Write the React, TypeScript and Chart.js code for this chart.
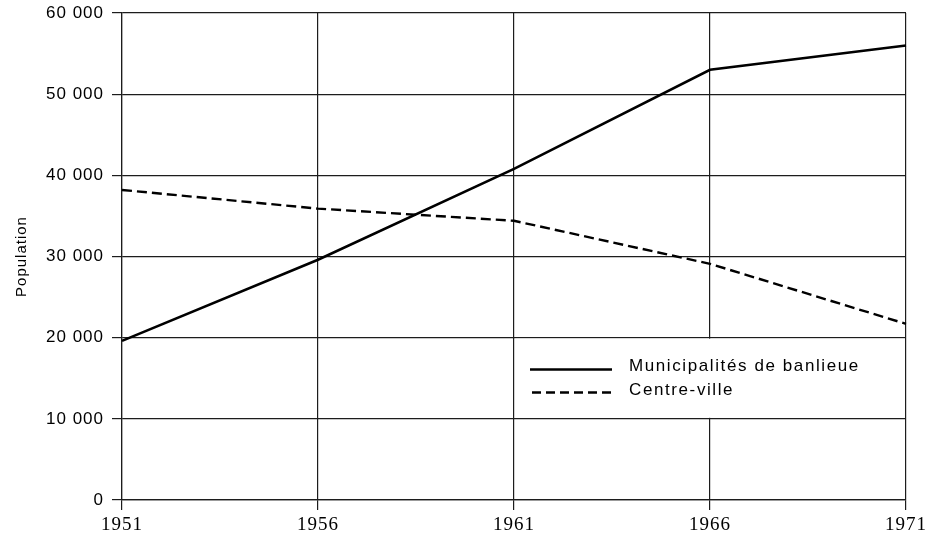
import React, { useEffect, useRef } from "react";
import { Chart, registerables } from "chart.js";

Chart.register(...registerables);

const years = ["1951", "1956", "1961", "1966", "1971"];
const banlieue = [19600, 29600, 40800, 53000, 56000];
const centreVille = [38200, 35900, 34400, 29100, 21700];
const seriesNames = ["Municipalités de banlieue", "Centre-ville"];
const yTicks = [0, 10000, 20000, 30000, 40000, 50000, 60000];
const yTitle = "Population";

const fmt = (v: number) =>
  v === 0 ? "0" : String(v).replace(/\B(?=(\d{3})+(?!\d))/g, " ");

const legendBoxPlugin = {
  id: "legendBox",
  beforeDraw(chart: any) {
    chart.ctx.letterSpacing = "1px";
  },
  beforeDatasetsDraw(chart: any) {
    const { ctx, scales } = chart;
    const x = scales.x;
    const y = scales.y;
    const left = x.getPixelForValue(2) + 1;
    const right = x.getPixelForValue(4) - 1;
    const top = y.getPixelForValue(20000) + 1;
    const bottom = y.getPixelForValue(10000) - 1;
    ctx.save();
    ctx.fillStyle = "#ffffff";
    ctx.fillRect(left, top, right - left, bottom - top);
    const h = bottom - top;
    const row1 = top + h * 0.39;
    const row2 = top + h * 0.68;
    const sx0 = left + 15;
    const sx1 = left + 97;
    ctx.strokeStyle = "#000";
    ctx.lineWidth = 2.4;
    ctx.setLineDash([]);
    ctx.beginPath();
    ctx.moveTo(sx0, row1);
    ctx.lineTo(sx1, row1);
    ctx.stroke();
    ctx.setLineDash([9, 5]);
    ctx.beginPath();
    ctx.moveTo(sx0 + 2, row2);
    ctx.lineTo(sx1, row2);
    ctx.stroke();
    ctx.setLineDash([]);
    ctx.fillStyle = "#000";
    ctx.font = "17px 'Liberation Sans', Arial, sans-serif";
    ctx.letterSpacing = "1.6px";
    ctx.textBaseline = "middle";
    ctx.textAlign = "left";
    ctx.fillText(seriesNames[0], left + 114, row1 - 3);
    ctx.fillText(seriesNames[1], left + 114, row2 - 2);
    ctx.restore();
  },
};

export default function App() {
  const ref = useRef<HTMLCanvasElement>(null);
  useEffect(() => {
    if (!ref.current) return;
    const grid = "#1c1c1c";
    const chart = new Chart(ref.current, {
      type: "line",
      data: {
        labels: years,
        datasets: [
          {
            label: seriesNames[0],
            data: banlieue,
            borderColor: "#000",
            borderWidth: 2.6,
            pointRadius: 0,
            tension: 0,
            fill: false,
          },
          {
            label: seriesNames[1],
            data: centreVille,
            borderColor: "#000",
            borderWidth: 2.4,
            borderDash: [10, 5],
            pointRadius: 0,
            tension: 0,
            fill: false,
          },
        ],
      },
      plugins: [legendBoxPlugin],
      options: {
        animation: false,
        responsive: false,
        maintainAspectRatio: false,
        layout: { padding: { top: 13, right: 20, left: 0, bottom: 0 } },
        plugins: { legend: { display: false }, tooltip: { enabled: false } },
        scales: {
          x: {
            type: "category",
            offset: false,
            afterFit: (s: any) => {
              s.height = 38;
              s.paddingLeft = 0;
              s.paddingRight = 0;
            },
            grid: { color: grid, lineWidth: 1.2, tickLength: 10, drawTicks: true },
            border: { color: grid, width: 1.2 },
            ticks: {
              color: "#000",
              padding: 4,
              maxRotation: 0,
              font: { family: "'Liberation Serif', 'Times New Roman', serif", size: 19 },
            },
          },
          y: {
            min: 0,
            max: 60000,
            afterFit: (s: any) => {
              s.width = 122;
              s.paddingTop = 0;
              s.paddingBottom = 0;
            },
            afterBuildTicks: (s: any) => {
              s.ticks = yTicks.map((v) => ({ value: v }));
            },
            grid: { color: grid, lineWidth: 1.2, tickLength: 10, drawTicks: true },
            border: { color: grid, width: 1.2 },
            ticks: {
              color: "#000",
              padding: 8,
              font: { family: "'Liberation Sans', Arial, sans-serif", size: 17 },
              callback: (v: any) => fmt(Number(v)),
            },
            title: {
              display: true,
              text: yTitle,
              color: "#000",
              padding: { top: 13, bottom: 0 },
              font: { family: "'Liberation Sans', Arial, sans-serif", size: 15 },
            },
          },
        },
      },
    });
    return () => chart.destroy();
  }, []);
  return (
    <div style={{ position: "absolute", left: 0, top: 0, width: 926, height: 538, background: "#fff" }}>
      <canvas ref={ref} width={926} height={538} />
    </div>
  );
}
